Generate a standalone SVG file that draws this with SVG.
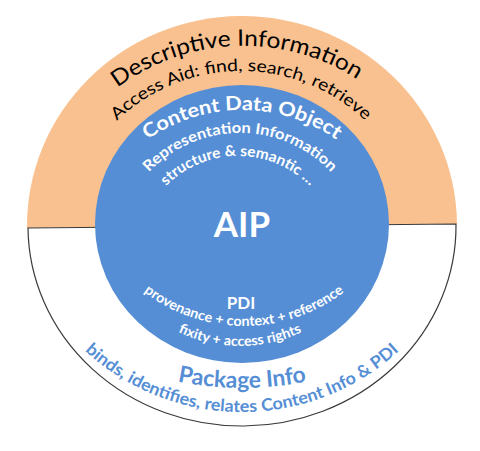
<svg xmlns="http://www.w3.org/2000/svg" width="480" height="451" viewBox="0 0 480 451">
<style>
text{font-family:Lato,"Liberation Sans",sans-serif}
.w{fill:#ffffff}
.k{fill:#000000}
.b{fill:#558ED5}
</style>
<defs>
<path id="pDesc" d="M54.1,151 A210,210 0 0 1 417.9,151"/>
<path id="pAcc" d="M85.1,161 A180,180 0 0 1 396.9,161"/>
<path id="pCDO" d="M99.1,192.5 A165,165 0 0 1 384.9,192.5"/>
<path id="pRep" d="M131.7,195.5 A125,125 0 0 1 348.3,195.5"/>
<path id="pStr" d="M150.5,206.5 A101,101 0 0 1 325.5,206.5"/>
<path id="pProv" d="M102,244 A164,164 0 0 0 386,244"/>
<path id="pFix" d="M115.3,274 A144,144 0 0 0 364.7,274"/>
<path id="pPkg" d="M80.5,344.7 A323,323 0 0 0 403.5,344.7"/>
<path id="pBind" d="M31.7,278 A232,232 0 0 0 452.3,278"/>
</defs>
<g id="outer-top">
<path d="M27,228 A215,210 0 0 1 457,224 Z" fill="#F9C18F"/>
</g>
<g id="outer-bottom">
<path d="M28,228 L456,224 A214,200 0 0 1 28,228 Z" fill="#ffffff" stroke="#3a3a3a" stroke-width="1.2"/>
</g>
<g id="aip-core">
<ellipse cx="242" cy="224" rx="147" ry="139" fill="#558ED5"/>
</g>
<g id="descriptive-info">
<text class="k" font-size="22.5" transform="rotate(-2 236 46)"><textPath href="#pDesc" startOffset="50%" text-anchor="middle" textLength="255" lengthAdjust="spacingAndGlyphs">Descriptive Information</textPath></text>
<text class="k" font-size="17"><textPath href="#pAcc" startOffset="50%" text-anchor="middle" textLength="274" lengthAdjust="spacingAndGlyphs">Access Aid: find, search, retrieve</textPath></text>
</g>
<g id="content-data-object">
<text class="w" font-size="19.5" font-weight="700"><textPath href="#pCDO" startOffset="50%" text-anchor="middle" textLength="201" lengthAdjust="spacingAndGlyphs">Content Data Object</textPath></text>
<text class="w" font-size="15" font-weight="700"><textPath href="#pRep" startOffset="50%" text-anchor="middle" textLength="204" lengthAdjust="spacingAndGlyphs">Representation Information</textPath></text>
<text class="w" font-size="15" font-weight="700"><textPath href="#pStr" startOffset="50%" text-anchor="middle" textLength="160" lengthAdjust="spacingAndGlyphs">structure &amp; semantic …</textPath></text>
</g>
<g id="aip-label">
<text class="w" x="242" y="237" font-size="35" font-weight="700" text-anchor="middle">AIP</text>
</g>
<g id="pdi">
<text class="w" x="241" y="309" font-size="17" font-weight="700" text-anchor="middle">PDI</text>
<text class="w" font-size="14" font-weight="700"><textPath href="#pProv" startOffset="50%" text-anchor="middle" textLength="215" lengthAdjust="spacingAndGlyphs">provenance + context + reference</textPath></text>
<text class="w" font-size="14" font-weight="700"><textPath href="#pFix" startOffset="50%" text-anchor="middle" textLength="128" lengthAdjust="spacingAndGlyphs">fixity + access rights</textPath></text>
</g>
<g id="package-info">
<text class="b" font-size="23" font-weight="700"><textPath href="#pPkg" startOffset="50%" text-anchor="middle" textLength="130" lengthAdjust="spacingAndGlyphs">Package Info</textPath></text>
<text class="b" font-size="17" font-weight="700"><textPath href="#pBind" startOffset="50%" text-anchor="middle" textLength="345" lengthAdjust="spacingAndGlyphs">binds, identifies, relates Content Info &amp; PDI</textPath></text>
</g>
</svg>
